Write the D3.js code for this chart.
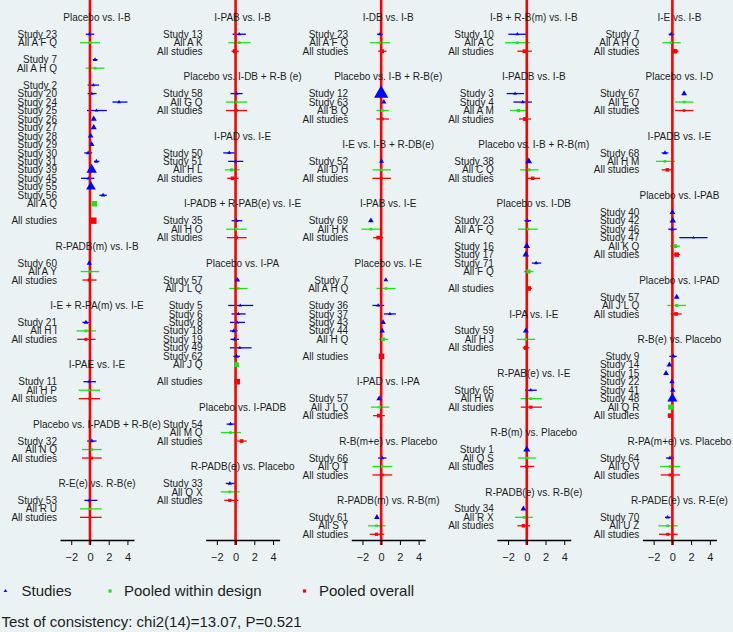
<!DOCTYPE html>
<html><head><meta charset="utf-8">
<script src="https://cdn.jsdelivr.net/npm/d3@7"></script>
<style>
html,body{margin:0;padding:0;background:#eaf2f3;}
svg{display:block;font-family:"Liberation Sans",Arial,sans-serif;}
</style></head>
<body>
<svg id="chart" width="733" height="632"></svg>
<script>
// ---------- data ----------
// row: [label, kind (s=study, d=pooled within design, o=pooled overall), estimate, lower, upper, weight]; null = blank row
const xDomain = [-3.2, 4.7];
const tickValues = [-2, 0, 2, 4];

const col1Panels = [
 {title:"Placebo vs. I-B", rows:[
  ["Study 23","s",-0.05,-0.45,0.45,1],
  ["All A F Q","d",0,-1.07,1.07,1],
  null,
  ["Study 7","s",0.54,0.29,0.82,1.3],
  ["All A H Q","d",0.54,-0.46,1.54,1],
  null,
  ["Study 2","s",0.36,-0.25,0.96,1],
  ["Study 20","s",0.2,-0.25,0.7,1],
  ["Study 24","s",3.1,2.4,4.0,1],
  ["Study 25","s",0.7,-0.32,1.8,0.8],
  ["Study 26","s",0.4,0.25,0.55,2.6],
  ["Study 27","s",0.4,0.25,0.55,2.6],
  ["Study 28","s",0.07,-0.08,0.22,2.2],
  ["Study 29","s",0.18,0.03,0.33,2.2],
  ["Study 30","s",-0.2,-0.6,0.25,1.3],
  ["Study 31","s",0.68,0.43,1.0,1.3],
  ["Study 39","s",0.18,0.05,0.3,7.5],
  ["Study 45","s",-0.18,-0.96,0.46,1],
  ["Study 55","s",0.1,0,0.2,6.5],
  ["Study 56","s",1.4,1.0,1.8,1.3],
  ["All A Q","d",0.46,0.38,0.54,4.5],
  null,
  ["All studies","o",0.36,0.28,0.44,6]]},
 {title:"R-PADB(m) vs. I-B", rows:[
  ["Study 60","s",-0.07,-0.17,0.03,2],
  ["All A Y","d",0,-1.0,1.0,1],
  ["All studies","o",-0.07,-0.8,0.7,1.5]]},
 {title:"I-E + R-PA(m) vs. I-E", rows:[
  ["Study 21","s",-0.43,-0.8,-0.07,1.5],
  ["All H I","d",-0.43,-1.43,0.64,1.2],
  ["All studies","o",-0.43,-1.36,0.6,1.3]]},
 {title:"I-PAE vs. I-E", rows:[
  ["Study 11","s",-0.07,-0.7,0.64,1],
  ["All H P","d",-0.07,-1.2,1.07,0.7],
  ["All studies","o",-0.07,-1.2,1.07,0.7]]},
 {title:"Placebo vs. I-PADB + R-B(e)", rows:[
  ["Study 32","s",0.2,-0.3,0.7,1.3],
  ["All N Q","d",0.2,-0.86,1.25,1],
  ["All studies","o",0.18,-0.86,1.25,1.2]]},
 {title:"R-E(e) vs. R-B(e)", rows:[
  ["Study 53","s",-0.07,-0.6,0.79,1],
  ["All R U","d",0,-1.07,1.25,0.7],
  ["All studies","o",0,-1.07,1.25,0.7]]}
];

const col2Panels = [
 {title:"I-PAB vs. I-B", rows:[
  ["Study 13","s",0.39,-0.32,1.1,1],
  ["All A K","d",0.39,-0.79,1.6,1],
  ["All studies","o",-0.07,-0.43,0.36,2.5]]},
 {title:"Placebo vs. I-DB + R-B (e)", rows:[
  ["Study 58","s",0.1,-0.54,0.75,1.2],
  ["All G Q","d",0.1,-1.04,1.25,1],
  ["All studies","o",0.1,-1.04,1.25,1]]},
 {title:"I-PAD vs. I-E", rows:[
  ["Study 50","s",-0.68,-1.32,0,1.1],
  ["Study 51","s",0,-0.79,0.82,1],
  ["All H L","d",-0.43,-1.14,0.46,1.5],
  ["All studies","o",-0.32,-0.89,0.32,2]]},
 {title:"I-PADB + R-PAB(e) vs. I-E", rows:[
  ["Study 35","s",0.1,-0.43,0.71,1.2],
  ["All H O","d",0.04,-1.0,1.18,1],
  ["All studies","o",0.1,-0.93,1.18,1.2]]},
 {title:"Placebo vs. I-PA", rows:[
  ["Study 57","s",0.2,0.05,0.35,2],
  ["All J L Q","d",0.29,-0.68,1.29,1],
  null,
  ["Study 5","s",0.5,-0.79,1.89,0.8],
  ["Study 6","s",0.29,-0.43,1.07,1],
  ["Study 8","s",0.18,-0.61,1.0,1],
  ["Study 18","s",-0.18,-0.61,0.21,1.5],
  ["Study 19","s",-0.11,-0.54,0.36,1.3],
  ["Study 49","s",0.46,-0.61,1.71,0.8],
  ["Study 62","s",0.1,-0.25,0.46,1.5],
  ["All J Q","d",0.1,-0.15,0.35,3.5],
  null,
  ["All studies","o",0.18,0.05,0.3,4.5]]},
 {title:"Placebo vs. I-PADB", rows:[
  ["Study 54","s",-0.54,-0.96,0.04,1.2],
  ["All M Q","d",-0.54,-1.57,0.57,1],
  ["All studies","o",0.64,0.18,1.18,2]]},
 {title:"R-PADB(e) vs. Placebo", rows:[
  ["Study 33","s",-0.61,-1.04,-0.07,1.2],
  ["All Q X","d",-0.61,-1.6,0.46,1],
  ["All studies","o",-0.61,-1.21,0.29,1.5]]}
];

const col3Panels = [
 {title:"I-DB vs. I-B", rows:[
  ["Study 23","s",-0.14,-0.43,0.21,1],
  ["All A F Q","d",-0.14,-1.21,0.93,1],
  ["All studies","o",0.11,-0.32,0.57,2]]},
 {title:"Placebo vs. I-B + R-B(e)", rows:[
  ["Study 12","s",0,-0.1,0.1,14],
  ["Study 63","s",0.29,0.2,0.38,1.8],
  ["All B Q","d",0.11,-0.5,0.82,1.3],
  ["All studies","o",0.11,-0.5,0.82,1.3]]},
 {title:"I-E vs. I-B + R-DB(e)", rows:[
  ["Study 52","s",0.04,-0.05,0.13,1.8],
  ["All D H","d",0.04,-0.93,1.04,1],
  ["All studies","o",0.04,-0.93,1.04,1]]},
 {title:"I-PAB vs. I-E", rows:[
  ["Study 69","s",-1.1,-1.2,-1.0,2.2],
  ["All H K","d",-1.1,-2.1,-0.07,1],
  ["All studies","o",-0.32,-0.86,0.21,2]]},
 {title:"Placebo vs. I-E", rows:[
  ["Study 7","s",0.5,0.4,0.6,1.5],
  ["All A H Q","d",0.5,-0.5,1.54,1],
  null,
  ["Study 36","s",-0.32,-0.93,0.32,1.1],
  ["Study 37","s",0.93,0.29,1.57,1],
  ["Study 43","s",0.21,0.1,0.32,2],
  ["Study 44","s",0.11,0,0.22,2],
  ["All H Q","d",0.21,-0.25,0.75,2],
  null,
  ["All studies","o",0.04,-0.21,0.29,4.5]]},
 {title:"I-PAD vs. I-PA", rows:[
  ["Study 57","s",-0.21,-0.3,-0.1,2.2],
  ["All J L Q","d",-0.14,-1.1,0.86,1],
  ["All studies","o",-0.25,-0.86,0.39,2]]},
 {title:"R-B(m+e) vs. Placebo", rows:[
  ["Study 66","s",0.11,-0.32,0.57,1.2],
  ["All Q T","d",0.11,-0.93,1.18,1],
  ["All studies","o",0.11,-0.93,1.18,1.2]]},
 {title:"R-PADB(m) vs. R-B(m)", rows:[
  ["Study 61","s",-0.46,-0.55,-0.35,2.2],
  ["All S Y","d",-0.5,-1.39,0.46,1],
  ["All studies","o",-0.5,-1.21,0.32,1.5]]}
];

const col4Panels = [
 {title:"I-B + R-B(m) vs. I-B", rows:[
  ["Study 10","s",-1.0,-1.96,0,1],
  ["All A C","d",-1.0,-2.32,0.36,1],
  ["All studies","o",-0.25,-1.0,0.54,2]]},
 {title:"I-PADB vs. I-B", rows:[
  ["Study 3","s",-1.25,-2.14,-0.29,1],
  ["Study 4","s",-0.43,-1.43,0.54,1],
  ["All A M","d",-0.89,-1.79,0.07,1.5],
  ["All studies","o",-0.18,-0.82,0.46,2.2]]},
 {title:"Placebo vs. I-B + R-B(m)", rows:[
  ["Study 38","s",0.21,0.1,0.32,3.2],
  ["All C Q","d",0.25,-0.71,1.25,1.3],
  ["All studies","o",0.64,-0.07,1.43,1.8]]},
 {title:"Placebo vs. I-DB", rows:[
  ["Study 23","s",0.07,-0.25,0.46,1.3],
  ["All A F Q","d",0.14,-0.93,1.18,1],
  null,
  ["Study 16","s",0,-0.1,0.1,3],
  ["Study 17","s",-0.1,-0.2,0,3],
  ["Study 71","s",1.0,0.54,1.54,1.2],
  ["All F Q","d",0.18,-0.29,0.71,2.5],
  null,
  ["All studies","o",0.21,-0.07,0.54,3]]},
 {title:"I-PA vs. I-E", rows:[
  ["Study 59","s",-0.1,-0.2,0,2.5],
  ["All H J","d",-0.1,-1.07,0.89,1],
  ["All studies","o",-0.1,-0.43,0.29,2.5]]},
 {title:"R-PAB(e) vs. I-E", rows:[
  ["Study 65","s",0.43,-0.18,1.07,1],
  ["All H W","d",0.43,-0.64,1.61,1],
  ["All studies","o",0.43,-0.64,1.61,1.5]]},
 {title:"R-B(m) vs. Placebo", rows:[
  ["Study 1","s",0,-0.1,0.1,3.5],
  ["All Q S","d",0,-0.96,1.0,1],
  ["All studies","o",0,-0.71,0.79,1.5]]},
 {title:"R-PADB(e) vs. R-B(e)", rows:[
  ["Study 34","s",-0.36,-0.45,-0.27,2.3],
  ["All R X","d",-0.29,-1.25,0.64,1],
  ["All studies","o",-0.36,-1.0,0.36,1.8]]}
];

const col5Panels = [
 {title:"I-E vs. I-B", rows:[
  ["Study 7","s",-0.14,-0.4,0.2,1.2],
  ["All A H Q","d",-0.14,-1.07,0.89,1],
  ["All studies","o",0.29,0,0.64,3]]},
 {title:"Placebo vs. I-D", rows:[
  ["Study 67","s",1.25,1.15,1.35,2.3],
  ["All E Q","d",1.25,0.29,2.25,1],
  ["All studies","o",1.25,0.29,2.25,1]]},
 {title:"I-PADB vs. I-E", rows:[
  ["Study 68","s",-0.79,-1.14,-0.43,1.5],
  ["All H M","d",-0.79,-1.75,0.29,1],
  ["All studies","o",-0.54,-1.14,0.04,1.8]]},
 {title:"Placebo vs. I-PAB", rows:[
  ["Study 40","s",0,-0.1,0.1,2.3],
  ["Study 42","s",0.04,-0.06,0.14,2.8],
  ["Study 46","s",0,-0.43,0.46,1.2],
  ["Study 47","s",2.25,0.75,3.75,0.6],
  ["All K Q","d",0.29,-0.25,0.82,2.2],
  ["All studies","o",0.46,0.1,0.82,3]]},
 {title:"Placebo vs. I-PAD", rows:[
  ["Study 57","s",0.46,0.36,0.56,2.3],
  ["All J L Q","d",0.46,-0.54,1.46,1.3],
  ["All studies","o",0.39,-0.18,1.0,2]]},
 {title:"R-B(e) vs. Placebo", rows:[
  ["Study 9","s",0.1,-0.32,0.46,1.3],
  ["Study 14","s",-0.32,-0.42,-0.22,2.3],
  ["Study 15","s",-0.68,-0.78,-0.58,2.3],
  ["Study 22","s",-0.04,-0.14,0.06,2],
  ["Study 41","s",0.04,-0.06,0.14,2],
  ["Study 48","s",0,-0.1,0.1,7],
  ["All Q R","d",-0.18,-0.35,0,4],
  ["All studies","o",-0.25,-0.42,-0.08,3]]},
 {title:"R-PA(m+e) vs. Placebo", rows:[
  ["Study 64","s",-0.25,-0.68,0.18,1.2],
  ["All Q V","d",-0.25,-1.32,0.82,1],
  ["All studies","o",-0.25,-1.25,0.82,1.3]]},
 {title:"R-PADE(e) vs. R-E(e)", rows:[
  ["Study 70","s",-0.5,-0.79,-0.18,1.2],
  ["All U Z","d",-0.5,-1.5,0.57,1],
  ["All studies","o",-0.5,-1.43,0.57,1.3]]}
];

const legendLabels = ["Studies", "Pooled within design", "Pooled overall"];
const footnote = "Test of consistency: chi2(14)=13.07, P=0.521";

// ---------- drawing ----------
const columns = [col1Panels, col2Panels, col3Panels, col4Panels, col5Panels];
const colors = {s:"#0000ff", d:"#19e619", o:"#ff0000"};
const textColor = "#1e1e1e";
const svg = d3.select("#chart");
svg.append("rect").attr("width",733).attr("height",632).attr("fill","#eaf2f3");

const rowY = r => 17.3 + r * 8.475;
const axisY = 540;

function triPath(cx, cy, w) {
  const h = w * 0.866;
  return `M${cx},${cy - h*2/3}L${cx + w/2},${cy + h/3}L${cx - w/2},${cy + h/3}Z`;
}

columns.forEach((panels, ci) => {
  const zero = 90 + ci * 145.6;
  const x = d3.scaleLinear().domain(xDomain).range([zero - 30, zero + 44]);
  const [r0, r1] = x.range();
  const g = svg.append("g");
  const lines = g.append("g"), refG = g.append("g"), marks = g.append("g"), texts = g.append("g");

  refG.append("line").attr("x1", x(0)).attr("x2", x(0)).attr("y1", 0).attr("y2", axisY + 5)
    .attr("stroke", "#ff0000").attr("stroke-width", 2.6);

  let r = 0;
  panels.forEach(p => {
    texts.append("text").attr("x", (r0 + r1) / 2).attr("y", rowY(r)).attr("dy", "0.36em")
      .attr("text-anchor", "middle").attr("font-size", 10).attr("fill", textColor).text(p.title);
    r += 2;
    p.rows.forEach(row => {
      if (row) {
        const [label, kind, est, lo, hi, w] = row;
        const y = rowY(r);
        texts.append("text").attr("x", x(0) - 33).attr("y", y).attr("dy", "0.36em")
          .attr("text-anchor", "end").attr("font-size", 10).attr("fill", textColor).text(label);
        lines.append("line").attr("x1", x(lo)).attr("x2", x(hi)).attr("y1", y).attr("y2", y)
          .attr("stroke", colors[kind]).attr("stroke-width", 1.3);
        if (kind === "s") {
          marks.append("path").attr("d", triPath(x(est), y, 3.8 * Math.sqrt(w))).attr("fill", colors.s);
        } else {
          const s = 2.6 * Math.sqrt(w);
          marks.append("rect").attr("x", x(est) - s/2).attr("y", y - s/2).attr("width", s).attr("height", s)
            .attr("fill", colors[kind]);
        }
      }
      r += 1;
    });
    r += 2;
  });

  const axis = d3.axisBottom(x).tickValues(tickValues).tickSize(5).tickPadding(8).tickSizeOuter(0);
  const ag = g.append("g").attr("transform", `translate(0,${axisY})`).call(axis);
  ag.select(".domain").attr("stroke", "#000").attr("stroke-width", 1.6);
  ag.selectAll(".tick line").attr("stroke", "#000").attr("stroke-width", 1);
  ag.selectAll(".tick text").attr("font-size", 11).attr("fill", textColor)
    .attr("font-family", "'Liberation Sans',Arial,sans-serif");
});

// legend
const legY = 591;
const legItems = [
  {kind:"s", mx:5.5, tx:21.5},
  {kind:"d", mx:110, tx:124},
  {kind:"o", mx:304.5, tx:319}
];
legItems.forEach((it, i) => {
  if (it.kind === "s") {
    svg.append("path").attr("d", triPath(it.mx, legY, 3.6)).attr("fill", colors.s);
  } else {
    svg.append("rect").attr("x", it.mx - 1.6).attr("y", legY - 1.6).attr("width", 3.2).attr("height", 3.2)
      .attr("fill", colors[it.kind]);
  }
  svg.append("text").attr("x", it.tx).attr("y", legY).attr("dy", "0.36em").attr("font-size", 15)
    .attr("fill", textColor).text(legendLabels[i]);
});

svg.append("text").attr("x", 1.5).attr("y", 621.7).attr("dy", "0.36em").attr("font-size", 15)
  .attr("fill", textColor).text(footnote);
</script>
</body></html>
